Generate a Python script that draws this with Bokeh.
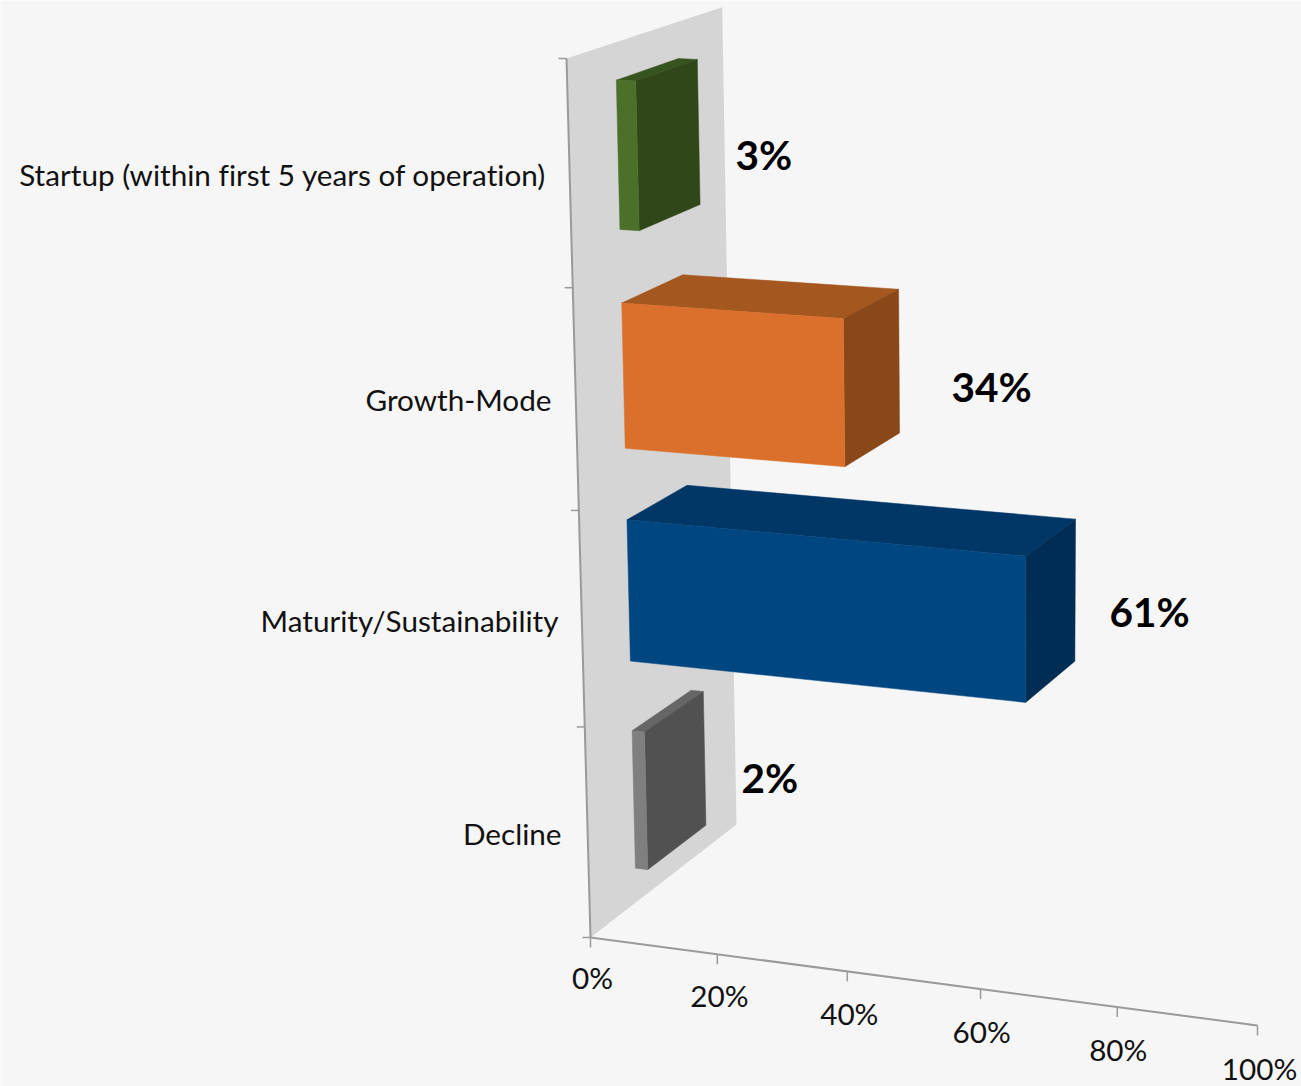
from bokeh.core.properties import value
from bokeh.embed import file_html
from bokeh.models import Range1d
from bokeh.plotting import figure
from bokeh.resources import INLINE

# Survey results, listed from the top of the chart downwards
categories = ["Startup (within first 5 years of operation)", "Growth-Mode",
              "Maturity/Sustainability", "Decline"]
shares = [3, 34, 61, 2]
share_labels = ["3%", "34%", "61%", "2%"]
tick_values = [0, 20, 40, 60, 80, 100]
tick_labels = ["0%", "20%", "40%", "60%", "80%", "100%"]

# Face colours for each bar
front_colors = ["#4A7029", "#DB702C", "#004680", "#7F7F7F"]
top_colors = ["#37541E", "#A4571F", "#003767", "#666666"]
side_colors = ["#2F4719", "#8A4819", "#002D54", "#515151"]

WIDTH, HEIGHT = 1301, 1086
BACKGROUND = "#F6F6F6"
WALL = "#D5D5D5"
AXIS = "#9A9A9A"
TEXT_FONT = value("Lato")

# Perspective camera: screen position of the origin and of the far end of each
# axis, with the foreshortening along value, category and depth.
ORIGIN = (590.0, 937.0)
VALUE_END = (1257.0, 1025.0)
CATEGORY_END = (566.0, 58.0)
DEPTH_END = (736.0, 824.0)
PERSP_V, PERSP_H, PERSP_D = -0.061, -0.055, 0.079

BAR_WIDTH = 2 / 3      # share of a category band taken by its bar
DEPTH_NEAR, DEPTH_FAR = 0.297, 0.697


def project(v, h, d):
    """Map value (0-1), category height (0-1) and depth (0-1) to the screen."""
    w = 1 + PERSP_V * v + PERSP_H * h + PERSP_D * d
    out = []
    for i in range(2):
        o = ORIGIN[i]
        n = (o
             + v * (VALUE_END[i] * (1 + PERSP_V) - o)
             + h * (CATEGORY_END[i] * (1 + PERSP_H) - o)
             + d * (DEPTH_END[i] * (1 + PERSP_D) - o))
        out.append(n / w)
    return out


def face(corners):
    pts = [project(*c) for c in corners]
    return [p[0] for p in pts], [p[1] for p in pts]


p = figure(width=WIDTH, height=HEIGHT, output_backend="svg", toolbar_location=None,
           x_range=Range1d(0, WIDTH), y_range=Range1d(HEIGHT, 0),
           min_border=0, background_fill_color=BACKGROUND,
           border_fill_color=BACKGROUND, outline_line_color=None)
p.axis.visible = False
p.grid.visible = False
# Keep letter pairs such as "fi" and "ti" as separate glyphs
p.stylesheets = [":host { font-variant-ligatures: none; }"]

# Back wall standing on the zero plane
xs, ys = face([(0, 0, 0), (0, 1, 0), (0, 1, 1), (0, 0, 1)])
p.patch(xs, ys, fill_color=WALL, line_color=None)

# Category axis with its tick marks
n = len(categories)
xs, ys = face([(0, 0, 0), (0, 1, 0)])
p.line(xs, ys, line_color=AXIS, line_width=2)
for i in range(n + 1):
    x, y = project(0, i / n, 0)
    p.line([x - 8, x], [y, y], line_color=AXIS, line_width=1.5)

# Value axis with its tick marks and labels
xs, ys = face([(0, 0, 0), (1, 0, 0)])
p.line(xs, ys, line_color=AXIS, line_width=2)
tick_label_offsets = [(2, 40), (2, 41), (2, 42), (1, 43), (1, 43), (2, 43)]
for t, label, (dx, dy) in zip(tick_values, tick_labels, tick_label_offsets):
    x, y = project(t / 100, 0, 0)
    p.line([x, x], [y, y + 10], line_color=AXIS, line_width=1.5)
    p.text([x + dx], [y + dy], text=[label], text_font=TEXT_FONT, text_font_size="29.7px",
           text_color="#111111", text_align="center", text_baseline="middle")

# Bars, one box per category
label_anchors = [(735, 154), (951, 386), (1109, 611), (741, 777)]
category_label_right = [546, 551, 558, 561]
category_label_y = [174, 399, 620, 833]
for i, share in enumerate(shares):
    center = (n - i - 0.5) / n
    lo, hi = center - BAR_WIDTH / (2 * n), center + BAR_WIDTH / (2 * n)
    v = share / 100
    near, far = DEPTH_NEAR, DEPTH_FAR
    faces = [
        ([(0, hi, near), (v, hi, near), (v, hi, far), (0, hi, far)], top_colors[i]),
        ([(v, lo, near), (v, hi, near), (v, hi, far), (v, lo, far)], side_colors[i]),
        ([(0, lo, near), (v, lo, near), (v, hi, near), (0, hi, near)], front_colors[i]),
    ]
    for corners, color in faces:
        xs, ys = face(corners)
        p.patch(xs, ys, fill_color=color, line_color=color, line_width=0.5)

    p.text([label_anchors[i][0]], [label_anchors[i][1]], text=[share_labels[i]],
           text_font=TEXT_FONT, text_font_style="bold", text_font_size="40.5px",
           text_color="#000000", text_align="left", text_baseline="middle")
    p.text([category_label_right[i]], [category_label_y[i]], text=[categories[i]],
           text_font=TEXT_FONT, text_font_size="29.7px", text_color="#111111",
           text_align="right", text_baseline="middle")

open("out.html", "w").write(file_html(p, INLINE))
